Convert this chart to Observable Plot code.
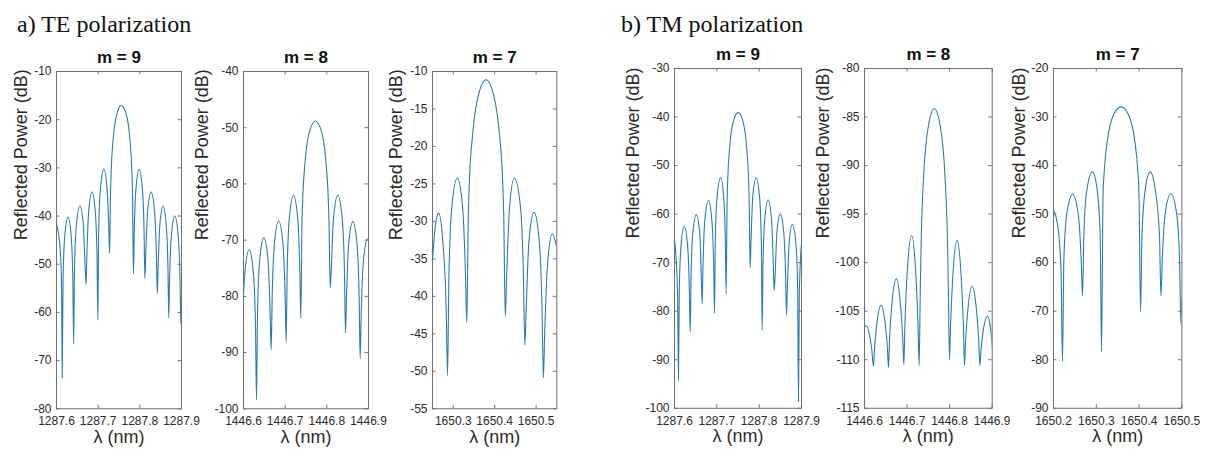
<!DOCTYPE html>
<html><head><meta charset="utf-8">
<script src="https://cdn.jsdelivr.net/npm/d3@7"></script>
<script src="https://cdn.jsdelivr.net/npm/@observablehq/plot@0.6"></script>
<style>
body{margin:0;background:#fff;width:1206px;height:454px;position:relative;overflow:hidden;font-family:"Liberation Sans",Arial,sans-serif}
.h{position:absolute;font-family:"Liberation Serif","Times New Roman",serif;font-size:24px;color:#111;line-height:24px;white-space:nowrap}
.p{position:absolute}
</style></head><body>
<script>
// ---------- data ----------
const groupTitles = ["a) TE polarization", "b) TM polarization"];
const panelTitles = ["m = 9", "m = 8", "m = 7", "m = 9", "m = 8", "m = 7"];
const yLabel = "Reflected Power (dB)";
const xLabel = "λ (nm)";

// TE, m = 9  [wavelength nm, reflected power dB]
const teM9 = [[1287.6000,-41.7],[1287.6060,-44.5],[1287.6100,-48.5],[1287.6122,-55.0],[1287.6137,-73.6],
[1287.6157,-53.2],[1287.6198,-44.2],[1287.6280,-40.2],[1287.6352,-44.2],[1287.6392,-53.2],[1287.6411,-66.5],
[1287.6432,-50.9],[1287.6477,-41.9],[1287.6562,-37.9],[1287.6644,-41.9],[1287.6689,-50.9],[1287.6710,-54.2],
[1287.6730,-48.0],[1287.6772,-39.0],[1287.6853,-35.0],[1287.6930,-39.0],[1287.6972,-48.0],[1287.6992,-61.5],
[1287.7012,-43.3],[1287.7054,-34.3],[1287.7140,-30.3],[1287.7212,-34.3],[1287.7254,-42.0],[1287.7274,-47.7],
[1287.7297,-35.0],[1287.7314,-30.3],[1287.7360,-24.0],[1287.7446,-18.9],[1287.7556,-17.05],[1287.7675,-18.9],[1287.7761,-24.0],[1287.7807,-30.3],[1287.7824,-35.0],[1287.7847,-52.0],
[1287.7866,-43.3],[1287.7907,-34.3],[1287.7984,-30.3],[1287.8061,-34.3],[1287.8102,-43.3],[1287.8121,-53.0],
[1287.8142,-48.0],[1287.8187,-39.0],[1287.8270,-35.0],[1287.8353,-39.0],[1287.8398,-48.0],[1287.8419,-56.1],
[1287.8438,-50.9],[1287.8480,-41.9],[1287.8556,-37.9],[1287.8634,-41.9],[1287.8675,-50.9],[1287.8694,-61.1],
[1287.8714,-53.0],[1287.8758,-44.0],[1287.8838,-40.0],[1287.8920,-44.0],[1287.8964,-53.0],[1287.8984,-62.4],
[1287.9000,-57.0]];

// TE, m = 8
const teM8 = [[1446.6000,-79.5],[1446.6035,-75.6],[1446.6136,-71.7],[1446.6234,-75.6],[1446.6287,-84.9],[1446.6312,-98.4],
[1446.6337,-82.8],[1446.6389,-73.5],[1446.6488,-69.6],[1446.6587,-73.5],[1446.6639,-82.8],[1446.6664,-89.5],
[1446.6689,-79.8],[1446.6743,-70.5],[1446.6844,-66.6],[1446.6945,-70.5],[1446.6999,-79.8],[1446.7024,-88.1],
[1446.7049,-75.2],[1446.7101,-66.0],[1446.7200,-62.0],[1446.7299,-66.0],[1446.7351,-75.2],[1446.7376,-83.9],
[1446.7404,-66.8],[1446.7425,-62.0],[1446.7482,-55.7],[1446.7587,-50.6],[1446.7728,-48.8],[1446.7869,-50.6],[1446.7974,-55.7],[1446.8031,-62.0],[1446.8052,-66.8],[1446.8080,-78.5],
[1446.8106,-75.2],[1446.8161,-66.0],[1446.8264,-62.0],[1446.8367,-66.0],[1446.8422,-75.2],[1446.8448,-86.5],
[1446.8473,-79.9],[1446.8525,-70.6],[1446.8624,-66.7],[1446.8723,-70.6],[1446.8775,-79.9],[1446.8800,-91.1],
[1446.8825,-83.0],[1446.8878,-73.7],[1446.8978,-69.8],[1446.9000,-69.9]];

// TE, m = 7
const teM7 = [[1650.2500,-35.2],[1650.2560,-31.0],[1650.2648,-28.9],[1650.2750,-32.8],[1650.2832,-42.0],[1650.2864,-50.55],
[1650.2896,-37.4],[1650.2966,-28.1],[1650.3100,-24.2],[1650.3226,-28.1],[1650.3296,-37.0],[1650.3328,-43.5],
[1650.3365,-29.1],[1650.3393,-24.3],[1650.3467,-18.5],[1650.3606,-13.2],[1650.3792,-11.1],[1650.3978,-13.2],[1650.4117,-18.5],[1650.4191,-24.3],[1650.4219,-29.1],[1650.4256,-42.7],
[1650.4289,-37.4],[1650.4360,-28.1],[1650.4475,-24.2],[1650.4624,-28.1],[1650.4695,-37.4],[1650.4728,-46.5],
[1650.4759,-42.0],[1650.4827,-32.7],[1650.4952,-28.8],[1650.5077,-32.7],[1650.5145,-42.0],[1650.5176,-50.9],
[1650.5208,-44.8],[1650.5280,-35.5],[1650.5392,-31.65],[1650.5488,-33.2]];

// TM, m = 9
const tmM9 = [[1287.6000,-65.4],[1287.6040,-69.5],[1287.6075,-77.7],[1287.6094,-94.2],
[1287.6113,-75.7],[1287.6155,-66.4],[1287.6230,-62.5],[1287.6309,-66.4],[1287.6351,-75.7],[1287.6370,-84.3],
[1287.6390,-73.3],[1287.6432,-64.0],[1287.6515,-60.1],[1287.6598,-64.0],[1287.6634,-73.3],[1287.6654,-78.5],
[1287.6674,-70.4],[1287.6718,-61.1],[1287.6805,-57.2],[1287.6881,-61.1],[1287.6925,-70.4],[1287.6945,-80.4],
[1287.6964,-65.7],[1287.7006,-56.4],[1287.7090,-52.5],[1287.7160,-56.4],[1287.7201,-65.7],[1287.7220,-76.4],
[1287.7243,-57.1],[1287.7260,-52.3],[1287.7305,-46.0],[1287.7390,-40.9],[1287.7504,-39.1],[1287.7617,-40.9],[1287.7702,-46.0],[1287.7747,-52.3],[1287.7764,-57.1],[1287.7787,-71.1],
[1287.7807,-65.7],[1287.7849,-56.4],[1287.7929,-52.5],[1287.8009,-56.4],[1287.8051,-65.7],[1287.8071,-84.0],
[1287.8091,-70.3],[1287.8133,-61.0],[1287.8212,-57.1],[1287.8292,-61.0],[1287.8334,-70.3],[1287.8354,-75.7],
[1287.8374,-73.2],[1287.8418,-63.9],[1287.8498,-60.0],[1287.8582,-63.9],[1287.8626,-73.2],[1287.8646,-80.7],
[1287.8666,-75.3],[1287.8708,-66.0],[1287.8785,-62.1],[1287.8867,-66.0],[1287.8909,-75.3],[1287.8929,-98.6],
[1287.8949,-76.0],[1287.9000,-66.1]];

// TM, m = 8
const tmM8 = [[1446.6000,-106.6],[1446.6039,-106.5],[1446.6110,-107.3],[1446.6170,-108.9],[1446.6211,-110.7],
[1446.6236,-108.8],[1446.6289,-106.3],[1446.6390,-104.4],[1446.6486,-106.3],[1446.6539,-108.8],[1446.6564,-110.8],
[1446.6589,-107.8],[1446.6643,-104.3],[1446.6750,-101.65],[1446.6845,-104.3],[1446.6899,-107.8],[1446.6924,-110.5],
[1446.6949,-106.5],[1446.7003,-101.1],[1446.7108,-97.2],[1446.7205,-101.1],[1446.7259,-106.5],[1446.7284,-110.6],
[1446.7313,-102.1],[1446.7334,-97.3],[1446.7391,-91.0],[1446.7498,-86.0],[1446.7640,-84.14],[1446.7783,-86.0],[1446.7890,-91.0],[1446.7947,-97.3],[1446.7968,-102.1],[1446.7997,-110.0],
[1446.8022,-106.4],[1446.8074,-101.5],[1446.8173,-97.7],[1446.8272,-101.5],[1446.8324,-106.6],[1446.8349,-110.6],
[1446.8374,-108.1],[1446.8428,-104.9],[1446.8530,-102.4],[1446.8631,-104.9],[1446.8685,-108.1],[1446.8710,-110.6],
[1446.8735,-109.1],[1446.8789,-107.0],[1446.8888,-105.5],[1446.8950,-106.4],[1446.9000,-108.5]];

// TM, m = 7
const tmM7 = [[1650.2000,-49.2],[1650.2070,-51.0],[1650.2140,-55.9],[1650.2178,-62.2],[1650.2210,-80.3],
[1650.2243,-59.1],[1650.2313,-49.8],[1650.2448,-45.9],[1650.2575,-49.8],[1650.2645,-59.1],[1650.2678,-66.9],
[1650.2709,-54.5],[1650.2776,-45.2],[1650.2910,-41.3],[1650.3024,-45.2],[1650.3091,-54.5],[1650.3122,-78.3],
[1650.3158,-45.9],[1650.3186,-41.1],[1650.3259,-34.8],[1650.3396,-29.7],[1650.3580,-27.9],[1650.3760,-29.7],[1650.3897,-34.8],[1650.3970,-41.1],[1650.3998,-45.9],[1650.4034,-70.2],
[1650.4067,-54.5],[1650.4139,-45.2],[1650.4260,-41.3],[1650.4381,-45.2],[1650.4477,-54.5],[1650.4510,-66.9],
[1650.4543,-59.0],[1650.4613,-49.7],[1650.4740,-45.8],[1650.4874,-49.7],[1650.4944,-59.0],[1650.4977,-72.6],
[1650.5000,-67.5]];

// axis ranges and tick values
const xDomains = [[1287.6,1287.9],[1446.6,1446.9],[1650.25,1650.55],[1287.6,1287.9],[1446.6,1446.9],[1650.2,1650.5]];
const yDomains = [[-80,-10],[-100,-40],[-55,-10],[-100,-30],[-115,-80],[-90,-20]];
const xTickValues = [
  [1287.6,1287.7,1287.8,1287.9],[1446.6,1446.7,1446.8,1446.9],[1650.3,1650.4,1650.5],
  [1287.6,1287.7,1287.8,1287.9],[1446.6,1446.7,1446.8,1446.9],[1650.2,1650.3,1650.4,1650.5]];
const yTickValues = [
  [-80,-70,-60,-50,-40,-30,-20,-10],[-100,-90,-80,-70,-60,-50,-40],[-55,-50,-45,-40,-35,-30,-25,-20,-15,-10],
  [-100,-90,-80,-70,-60,-50,-40,-30],[-115,-110,-105,-100,-95,-90,-85,-80],[-90,-80,-70,-60,-50,-40,-30,-20]];
const series = [teM9, teM8, teM7, tmM9, tmM8, tmM7];

// ---------- layout ----------
const frames = [ // left, top, width, height of each plot frame (px)
  [55.5, 71, 125, 337.3], [243.3, 71, 125, 337.3], [431.7, 71, 124.3, 337.3],
  [674, 68.2, 127, 339.8], [864, 68.2, 127.7, 339.8], [1053.3, 68.2, 128.4, 339.8]];
const yLabelOffsets = [-35.5, -41, -36, -41.5, -41, -34];
const groupPos = [[17, 12], [621, 12]];

groupTitles.forEach((t, i) => {
  const d = document.createElement("div");
  d.className = "h";
  d.style.left = groupPos[i][0] + "px";
  d.style.top = groupPos[i][1] + "px";
  d.textContent = t;
  document.body.appendChild(d);
});

const ink = "#2b2b2b", box = "#707070", lineColor = "#2a7bb8";
series.forEach((pts, i) => {
  const [L, T, W, H] = frames[i];
  const mL = 50, mR = 6, mT = 30, mB = 46;
  const rows = pts.map(([x, y]) => ({x, y}));
  const tk = 3.5;
  const svg = Plot.plot({
    width: W + mL + mR, height: H + mT + mB,
    marginLeft: mL, marginRight: mR, marginTop: mT, marginBottom: mB,
    style: {fontFamily: '"Liberation Sans", Arial, sans-serif', fontSize: "12px", color: ink, background: "transparent", overflow: "visible"},
    x: {domain: xDomains[i]},
    y: {domain: yDomains[i]},
    marks: [
      Plot.frame({stroke: box, strokeWidth: 1}),
      Plot.ruleY(yTickValues[i], {insetRight: W - tk, stroke: box}),
      Plot.ruleY(yTickValues[i], {insetLeft: W - tk, stroke: box}),
      Plot.ruleX(xTickValues[i], {insetTop: H - tk, stroke: box}),
      Plot.ruleX(xTickValues[i], {insetBottom: H - tk, stroke: box}),
      Plot.axisY(yTickValues[i], {tickSize: 0, tickPadding: 5, tickFormat: d => String(d), label: null, fill: ink, fontSize: 12}),
      Plot.axisX(xTickValues[i], {tickSize: 0, tickPadding: 8, tickFormat: d3.format(".1f"), label: null, fill: ink, fontSize: 12}),
      Plot.line(rows, {x: "x", y: "y", curve: "monotone-x", stroke: lineColor, strokeWidth: 1.1, clip: true}),
      Plot.text([panelTitles[i]], {text: d => d, frameAnchor: "top", dy: -8, lineAnchor: "bottom", fontWeight: "bold", fontSize: 17, fill: "#111"}),
      Plot.text([yLabel], {text: d => d, frameAnchor: "left", rotate: -90, dx: yLabelOffsets[i], fontSize: 18, fill: ink}),
      Plot.text([xLabel], {text: d => d, frameAnchor: "bottom", dy: 34, fontSize: 18, fill: ink})
    ]
  });
  const wrap = document.createElement("div");
  wrap.className = "p";
  wrap.style.left = (L - mL) + "px";
  wrap.style.top = (T - mT) + "px";
  wrap.appendChild(svg);
  document.body.appendChild(wrap);
});
</script>
</body></html>
